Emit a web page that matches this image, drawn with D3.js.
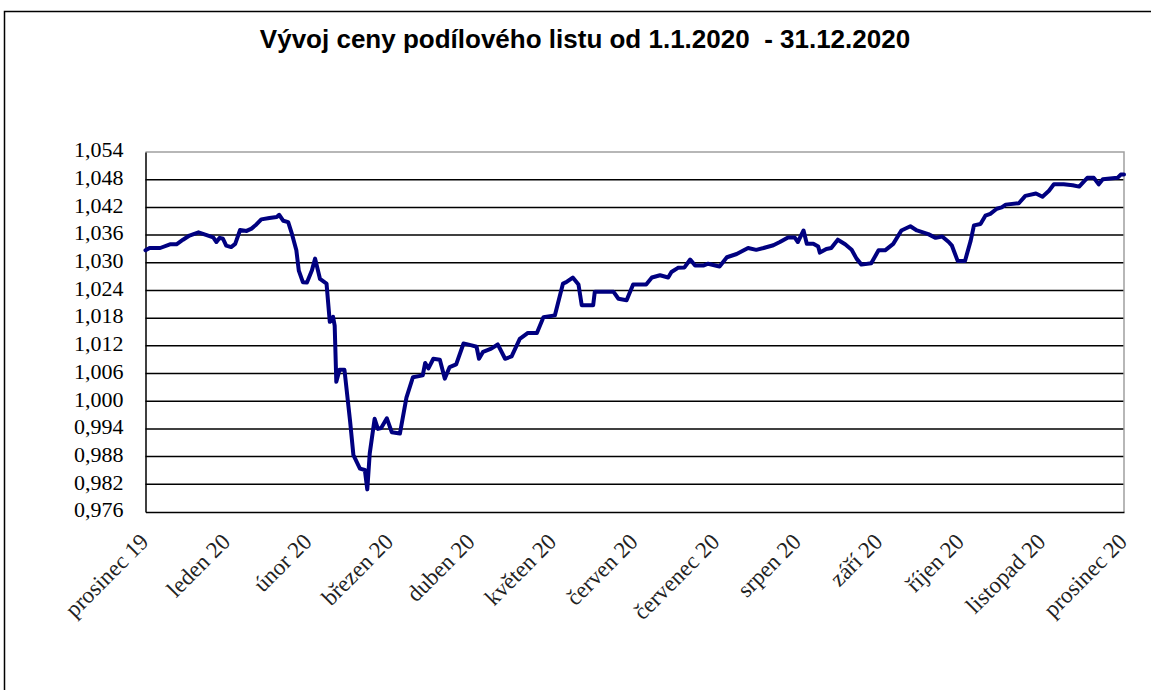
<!DOCTYPE html>
<html><head><meta charset="utf-8">
<script src="https://cdn.jsdelivr.net/npm/d3@7"></script>
<style>body{margin:0;background:#fff}svg{display:block}</style>
</head><body>
<svg id="chart" width="1151" height="690"></svg>
<script>
const title = "Vývoj ceny podílového listu od 1.1.2020  - 31.12.2020";
const monthLabels = ["prosinec 19","leden 20","únor 20","březen 20","duben 20","květen 20","červen 20","červenec 20","srpen 20","září 20","říjen 20","listopad 20","prosinec 20"];
const yTicks = [0.976,0.982,0.988,0.994,1.000,1.006,1.012,1.018,1.024,1.030,1.036,1.042,1.048,1.054];
// position in months since "prosinec 19"
const monthPos = [0.00,0.05,0.18,0.30,0.38,0.46,0.54,0.65,0.75,0.83,0.87,0.91,0.95,0.99,1.05,1.10,1.16,1.24,1.30,1.36,1.42,1.52,1.61,1.64,1.69,1.75,1.79,1.85,1.88,1.93,1.98,2.04,2.08,2.14,2.22,2.26,2.30,2.32,2.34,2.38,2.44,2.51,2.55,2.63,2.69,2.72,2.75,2.81,2.85,2.89,2.96,3.02,3.12,3.20,3.28,3.40,3.43,3.47,3.53,3.61,3.67,3.73,3.81,3.90,4.00,4.06,4.09,4.14,4.24,4.32,4.41,4.49,4.59,4.69,4.80,4.88,5.02,5.12,5.16,5.24,5.31,5.35,5.49,5.51,5.74,5.80,5.90,5.98,6.14,6.21,6.31,6.41,6.45,6.53,6.61,6.68,6.74,6.84,6.90,7.04,7.13,7.25,7.39,7.49,7.58,7.70,7.78,7.88,7.96,8.00,8.07,8.11,8.19,8.25,8.27,8.35,8.41,8.49,8.58,8.66,8.72,8.78,8.90,8.99,9.07,9.17,9.27,9.38,9.46,9.60,9.69,9.77,9.85,9.89,9.96,10.05,10.12,10.16,10.24,10.30,10.36,10.44,10.50,10.55,10.71,10.79,10.92,11.00,11.08,11.14,11.26,11.37,11.45,11.55,11.63,11.69,11.74,11.92,11.96,12.00];
const price = [1.0327,1.0332,1.0332,1.0340,1.0340,1.0350,1.0359,1.0366,1.0360,1.0355,1.0345,1.0354,1.0352,1.0337,1.0334,1.0341,1.0371,1.0369,1.0374,1.0383,1.0394,1.0397,1.0399,1.0404,1.0391,1.0388,1.0366,1.0327,1.0283,1.0258,1.0257,1.0283,1.0309,1.0265,1.0255,1.0172,1.0183,1.0164,1.0042,1.0068,1.0068,0.9955,0.9883,0.9854,0.9851,0.9809,0.9887,0.9962,0.9940,0.9942,0.9963,0.9933,0.9930,1.0008,1.0052,1.0056,1.0083,1.0071,1.0092,1.0090,1.0049,1.0074,1.0080,1.0125,1.0121,1.0118,1.0092,1.0107,1.0114,1.0123,1.0092,1.0097,1.0135,1.0148,1.0148,1.0182,1.0186,1.0255,1.0258,1.0268,1.0253,1.0208,1.0208,1.0237,1.0237,1.0222,1.0219,1.0253,1.0253,1.0268,1.0273,1.0268,1.0280,1.0289,1.0290,1.0307,1.0294,1.0294,1.0298,1.0292,1.0312,1.0319,1.0332,1.0328,1.0332,1.0338,1.0345,1.0355,1.0355,1.0345,1.0370,1.0341,1.0341,1.0335,1.0322,1.0330,1.0332,1.0350,1.0340,1.0328,1.0309,1.0296,1.0299,1.0327,1.0327,1.0341,1.0370,1.0379,1.0370,1.0362,1.0354,1.0357,1.0345,1.0337,1.0304,1.0304,1.0348,1.0381,1.0384,1.0402,1.0406,1.0417,1.0420,1.0426,1.0429,1.0445,1.0450,1.0443,1.0456,1.0470,1.0470,1.0468,1.0465,1.0484,1.0484,1.0470,1.0481,1.0484,1.0491,1.0491];

const svg = d3.select("#chart");
const m = {left:145.5, right:1124, top:152, bottom:512};

// outer frame
svg.append("rect").attr("x",4.5).attr("y",11.5).attr("width",1160).attr("height",700)
  .attr("fill","none").attr("stroke","#000").attr("stroke-width",1.5);

svg.append("text").attr("x",585).attr("y",48).attr("text-anchor","middle")
  .attr("xml:space","preserve").style("white-space","pre")
  .attr("font-family","Liberation Sans, Arial, sans-serif").attr("font-weight","bold")
  .attr("font-size",26).attr("fill","#000").text(title);

const x = d3.scaleLinear().domain([0, monthLabels.length-1]).range([m.left, m.right]);
const y = d3.scaleLinear().domain([d3.min(yTicks), d3.max(yTicks)]).range([m.bottom, m.top]);

// gridlines
svg.append("g").selectAll("line").data(yTicks.slice(1,-1)).join("line")
  .attr("x1",m.left).attr("x2",m.right).attr("y1",d=>y(d)).attr("y2",d=>y(d))
  .attr("stroke","#000").attr("stroke-width",1.5);
// plot frame: top/right grey
svg.append("path").attr("d",`M${m.left},${m.top}H${m.right}V${m.bottom}`)
  .attr("fill","none").attr("stroke","#a0a0a0").attr("stroke-width",1.5);

// y axis
const yAxis = svg.append("g").attr("transform",`translate(${m.left},0)`)
  .call(d3.axisLeft(y).tickValues(yTicks).tickSize(0).tickPadding(22)
        .tickFormat(d=>d3.format(".3f")(d).replace(".",",")));
yAxis.select(".domain").attr("stroke","#000").attr("stroke-width",1.5);
yAxis.selectAll("text").attr("font-family","Liberation Serif, Times New Roman, serif")
  .attr("font-size",22).attr("fill","#000").attr("dy","0.22em");

// x axis
const xAxis = svg.append("g").attr("transform",`translate(0,${m.bottom})`)
  .call(d3.axisBottom(x).tickValues(d3.range(monthLabels.length)).tickSize(0)
        .tickFormat(i=>monthLabels[i]));
xAxis.select(".domain").attr("stroke","#000").attr("stroke-width",1.5);
xAxis.selectAll("text").attr("font-family","Liberation Serif, Times New Roman, serif")
  .attr("font-size",23).attr("fill","#222")
  .attr("text-anchor","end").attr("dy",null).attr("y",0)
  .attr("transform","translate(4,31) rotate(-45)");

// line
const pts = monthPos.map((p,i)=>[p, price[i]]);
svg.append("path").datum(pts)
  .attr("d", d3.line().x(d=>x(d[0])).y(d=>y(d[1])))
  .attr("fill","none").attr("stroke","#000080").attr("stroke-width",4)
  .attr("stroke-linejoin","round").attr("stroke-linecap","round");
</script>
</body></html>
